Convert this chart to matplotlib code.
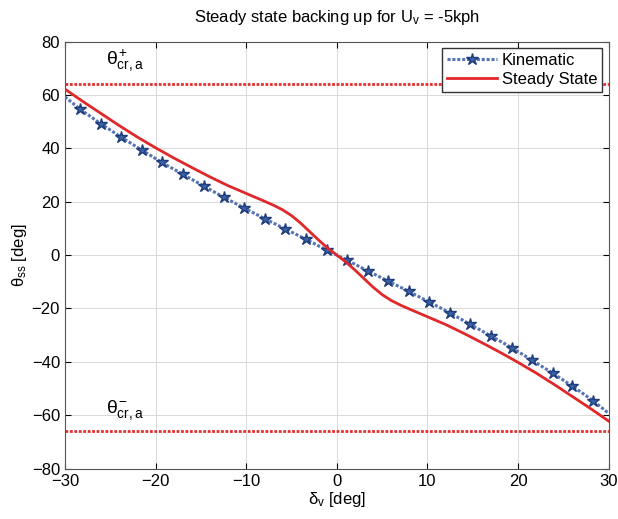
import numpy as np
import matplotlib
matplotlib.use("Agg")
import matplotlib.pyplot as plt

plt.rcParams['font.family'] = ['Liberation Sans', 'DejaVu Sans']
plt.rcParams['mathtext.fontset'] = 'custom'
plt.rcParams['mathtext.rm'] = 'Liberation Sans'
plt.rcParams['mathtext.it'] = 'Liberation Sans'

# Kinematic (symmetric about the origin)
kin_x_half = [1.13, 3.40, 5.67, 7.94, 10.2, 12.5, 14.7, 17.0, 19.3, 21.5, 23.8, 26.0, 28.3, 30.0]
kin_y_half = [1.9, 5.9, 9.75, 13.6, 17.6, 21.7, 25.9, 30.3, 34.7, 39.3, 44.2, 49.1, 54.6, 59.3]
kin_x = [-v for v in kin_x_half[::-1]] + kin_x_half
kin_y = kin_y_half[::-1] + [-v for v in kin_y_half]

# Steady state
ss_x_half = [0, 1, 2, 3, 4, 5, 6, 7, 8, 10, 12, 14, 16, 18, 20, 22, 24, 26, 28, 30]
ss_y_half = [0, 2.6, 5.6, 8.8, 12.0, 14.8, 17.0, 18.7, 20.2, 23.1, 26.0, 29.3,
             32.8, 36.4, 40.2, 44.2, 48.5, 53.0, 57.5, 62.2]
ss_x = [-v for v in ss_x_half[::-1]] + ss_x_half[1:]
ss_y = ss_y_half[::-1] + [-v for v in ss_y_half[1:]]

theta_cr_pos = 64
theta_cr_neg = -66

fig = plt.figure(figsize=(6.18, 5.19), dpi=100)
ax = fig.add_axes([0.105, 0.097, 0.88, 0.823])

ax.plot(kin_x, kin_y, color='#5674b4', linestyle=(0, (1, 0.6)), linewidth=2.2,
        marker='*', markersize=9, markerfacecolor='#3a62a8', markeredgecolor='#1f3d7a',
        markevery=list(range(1, len(kin_x) - 1)), label='Kinematic', zorder=3)
ax.plot(ss_x, ss_y, color='#e0282a', linewidth=2, label='Steady State', zorder=4)

ax.axhline(theta_cr_pos, color='#e03030', linestyle=(0, (1, 0.6)), linewidth=2)
ax.axhline(theta_cr_neg, color='#e03030', linestyle=(0, (1, 0.6)), linewidth=2)

ax.text(-25.5, 71.5, r'$\theta^{+}_{cr,a}$', fontsize=14)
ax.text(-25.5, -59, r'$\theta^{-}_{cr,a}$', fontsize=14)

ax.set_xlim(-30, 30)
ax.set_ylim(-80, 80)
ax.set_xticks(np.arange(-30, 31, 10))
ax.set_yticks(np.arange(-80, 81, 20))
ax.tick_params(direction='in', labelsize=12, top=True, right=True, length=4)
ax.grid(True, color='#d9d9d9', linewidth=0.7)
for s in ax.spines.values():
    s.set_color('#555555')

ax.set_xlabel(r'$\delta_v$ [deg]', fontsize=12, labelpad=1)
ax.set_ylabel(r'$\theta_{ss}$ [deg]', fontsize=12, labelpad=2)
ax.set_title(r'Steady state backing up for U$_v$ = -5kph', fontsize=12, pad=14)

leg = ax.legend(loc='upper right', fontsize=12, fancybox=False, framealpha=1,
                edgecolor='#333333', handlelength=3, borderaxespad=0.4,
                borderpad=0.3, labelspacing=0.2, handletextpad=0.3)

fig.savefig('out.png', dpi=100)
